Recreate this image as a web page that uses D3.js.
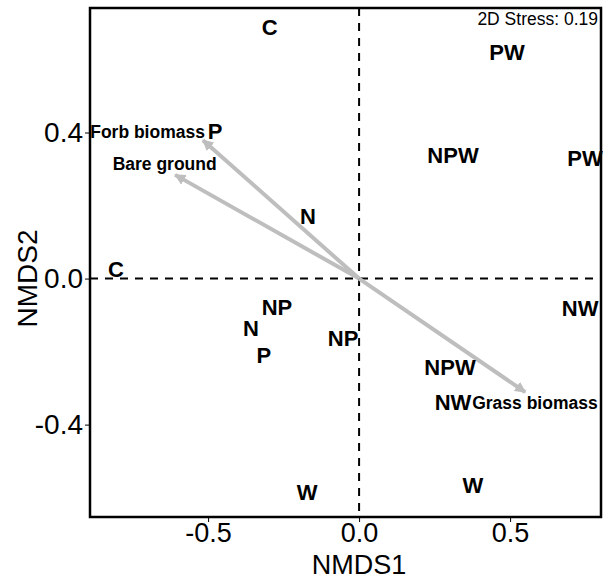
<!DOCTYPE html>
<html><head><meta charset="utf-8">
<script src="https://cdn.jsdelivr.net/npm/d3@7"></script>
<style>body{margin:0;background:#fff}svg{display:block}</style>
</head><body>
<script>
const sites = ["C","PW","NPW","PW","P","N","C","NP","N","P","NP","NW","NPW","NW","W","W"];
const siteX = [-0.296,0.490,0.311,0.748,-0.477,-0.169,-0.805,-0.272,-0.358,-0.315,-0.053,0.732,0.301,0.311,-0.172,0.377];
const siteY = [0.688,0.621,0.338,0.330,0.403,0.171,0.027,-0.077,-0.136,-0.210,-0.164,-0.081,-0.242,-0.338,-0.585,-0.566];
const vecNames = ["Forb biomass","Bare ground","Grass biomass"];
const vecX = [-0.517,-0.609,0.550];
const vecY = [0.379,0.284,-0.311];
const xTicks = [-0.5,0.0,0.5];
const yTicks = [-0.4,0.0,0.4];
const stressLabel = "2D Stress: 0.19";

const W=603,H=580;
const L=90,R=601,T=8,B=517;
const x=d3.scaleLinear().domain([-0.891,0.801]).range([L,R]);
const y=d3.scaleLinear().domain([-0.653,0.741]).range([B,T]);
const svg=d3.select("body").append("svg").attr("width",W).attr("height",H);
const font="Liberation Sans, Arial, Helvetica, sans-serif";

// dashed zero lines
svg.append("line").attr("x1",x(0)).attr("x2",x(0)).attr("y1",T).attr("y2",B)
  .attr("stroke","#000").attr("stroke-width",2).attr("stroke-dasharray","8,7");
svg.append("line").attr("x1",L).attr("x2",R).attr("y1",y(0)).attr("y2",y(0))
  .attr("stroke","#000").attr("stroke-width",2).attr("stroke-dasharray","8,7");

// arrows
const defs=svg.append("defs");
defs.append("marker").attr("id","ah").attr("viewBox","0 0 10 10").attr("refX",9).attr("refY",5)
  .attr("markerWidth",2.8).attr("markerHeight",2.8).attr("orient","auto").attr("markerUnits","strokeWidth")
  .append("path").attr("d","M0,0 L10,5 L0,10 z").attr("fill","#bebebe");
vecNames.forEach((n,i)=>{
  svg.append("line").attr("x1",x(0)).attr("y1",y(0)).attr("x2",x(vecX[i])).attr("y2",y(vecY[i]))
    .attr("stroke","#bebebe").attr("stroke-width",4).attr("marker-end","url(#ah)");
});
// vector labels
const vlab=[{a:"end",dx:2,dy:-8.5},{a:"middle",dx:-10.5,dy:-10.5},{a:"start",dx:-53,dy:11}];
vecNames.forEach((n,i)=>{
  svg.append("text").attr("x",x(vecX[i])+vlab[i].dx).attr("y",y(vecY[i])+vlab[i].dy).attr("dy","0.35em")
    .attr("text-anchor",vlab[i].a).attr("font-family",font).attr("font-weight","bold")
    .attr("font-size",17.5).attr("fill","#000").text(n);
});

// sites
sites.forEach((s,i)=>{
  svg.append("text").attr("x",x(siteX[i])).attr("y",y(siteY[i])).attr("dy","0.36em")
    .attr("text-anchor","middle").attr("font-family",font).attr("font-weight","bold")
    .attr("font-size",22).attr("fill","#000").text(s);
});

// box
svg.append("rect").attr("x",L).attr("y",T).attr("width",R-L).attr("height",B-T)
  .attr("fill","none").attr("stroke","#000").attr("stroke-width",2.5);

// axes
const fmt=d=>d3.format(".1f")(d).replace("−","-");
const xa=svg.append("g").attr("transform",`translate(0,${B})`)
  .call(d3.axisBottom(x).tickValues(xTicks).tickFormat(fmt).tickSize(5).tickPadding(1));
const ya=svg.append("g").attr("transform",`translate(${L},0)`)
  .call(d3.axisLeft(y).tickValues(yTicks).tickFormat(fmt).tickSize(5).tickPadding(2));
[xa,ya].forEach(g=>{
  g.select(".domain").remove();
  g.selectAll("text").attr("font-family",font).attr("font-size",28).attr("fill","#000");
  g.selectAll("line").attr("stroke","#000").attr("stroke-width",1);
});
xa.selectAll("text").attr("font-size",27);

svg.append("text").attr("x",x(0)).attr("y",574).attr("text-anchor","middle")
  .attr("font-family",font).attr("font-size",27).text("NMDS1");
svg.append("text").attr("transform",`translate(37,${y(0)}) rotate(-90)`).attr("text-anchor","middle")
  .attr("font-family",font).attr("font-size",28).text("NMDS2");

svg.append("text").attr("x",598).attr("y",25).attr("text-anchor","end")
  .attr("font-family",font).attr("font-size",17.5).text(stressLabel);
</script>
</body></html>
